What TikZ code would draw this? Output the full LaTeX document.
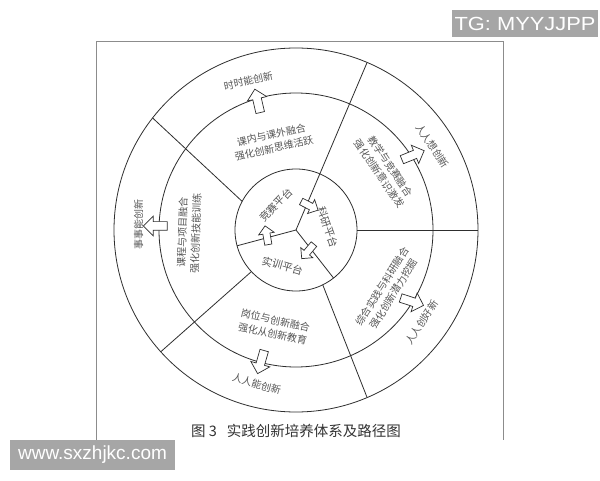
\documentclass[tikz,border=0pt]{standalone}
\usepackage{fontspec}
\usepackage{graphicx}
\newfontfamily\cjk{Noto Sans CJK SC}
\newfontfamily\wmfont{Liberation Sans}
\usetikzlibrary{shapes.arrows}
\definecolor{ln}{HTML}{2E2E2E}
\definecolor{tx}{HTML}{555555}
\definecolor{cap}{HTML}{333333}
\definecolor{fr}{HTML}{8C8C8C}
\definecolor{wmgray}{HTML}{A6A6A6}
\tikzset{
  ring/.style={circle, draw=ln, line width=0.8pt, inner sep=0pt, outer sep=0pt},
  sepline/.style={draw=ln, line width=0.8pt},
  bigarrow/.style={single arrow, draw=ln, fill=white, line width=0.7pt,
    inner xsep=0pt, inner ysep=4pt, minimum height=24pt, single arrow head extend=5.5pt},
  smallarrow/.style={single arrow, draw=ln, fill=white, line width=0.7pt,
    inner xsep=0pt, inner ysep=3.25pt, minimum height=19pt, single arrow head extend=4.25pt},
  lbl/.style={text=tx, font=\cjk\fontsize{10}{13.5}\selectfont, align=center, inner sep=0pt},
  plat/.style={text=tx, font=\cjk\fontsize{10.5}{13}\selectfont, inner sep=0pt},
  wmbox/.style={fill=wmgray, text=white, font=\wmfont\fontsize{19}{19}\selectfont, inner sep=0pt}
}
\begin{document}
\begin{tikzpicture}[x=1pt,y=1pt]
\useasboundingbox (0,0) rectangle (600,480);
\fill[white] (0,0) rectangle (600,480);
% frame
\draw[fr, line width=0.8pt] (96,40) -- (96,439) -- (503,439) -- (503,40);
% centre and rings
\coordinate (C) at (296,250);
\node[ring, minimum size=364pt] (outer) at (C) {};
\node[ring, minimum size=274pt] (middle) at (C) {};
\node[ring, minimum size=122pt] (inner) at (C) {};
% dividing lines
\draw[sepline] (C) -- (outer.67);
\draw[sepline] (inner.0) -- (outer.0);
\draw[sepline] (inner.-64.5) -- (outer.-67);
\draw[sepline] (C) -- (inner.-52);
\draw[sepline] (inner.223) -- (outer.222.5);
\draw[sepline] (C) -- (inner.195);
\draw[sepline] (inner.152.5) -- (outer.142.5);
% block arrows
\node[bigarrow, rotate=103] (a1) at (258,377) {};
\node[bigarrow, rotate=22] (a2) at (411,324) {};
\node[bigarrow, rotate=-18] (a3) at (410,179) {};
\node[bigarrow, rotate=-106] (a4) at (261.5,120) {};
\node[bigarrow, rotate=180] (a5) at (157.5,254) {};
\node[smallarrow, rotate=-27] (a6) at (308,275) {};
\node[smallarrow, rotate=100] (a7) at (267,243) {};
\node[smallarrow, rotate=-130] (a8) at (309,230) {};
% outer ring labels
\node[lbl, rotate=13] (t1) at (248.3,399.3) {时时能创新};
\node[lbl, rotate=-56] (t2) at (432.5,334) {人人想创新};
\node[lbl, rotate=57] (t3) at (421.7,157.5) {人人创好新};
\node[lbl, rotate=-16] (t4) at (256.7,96) {人人能创新};
\node[lbl, rotate=90] (t5) at (138.5,255) {事事能创新};
% middle ring labels
\node[lbl, rotate=12] (m1) at (272.7,338.3) {课内与课外融合\\强化创新思维活跃};
\node[lbl, rotate=-56] (m2) at (385,310) {教学与竞赛融合\\强化创新意识激发};
\node[lbl, rotate=58] (m3) at (388,190) {综合实践与科研融合\\强化创新潜力挖掘};
\node[lbl, rotate=-12] (m4) at (274,153) {岗位与创新融合\\强化从创新教育};
\node[lbl, rotate=88] (m5) at (189,247) {课程与项目融合\\强化创新技能训练};
% platforms
\node[plat, rotate=46] (p1) at (276,275) {竞赛平台};
\node[plat, rotate=-71] (p2) at (328,252.5) {科研平台};
\node[plat, rotate=-16] (p3) at (282.5,214) {实训平台};
% caption
\node[text=cap, font=\cjk\fontsize{14.5}{16}\selectfont, inner sep=0pt] (caption) at (296,49.5) {图 3\hspace{10pt}实践创新培养体系及路径图};
% watermarks
\node[wmbox, minimum width=146pt, minimum height=27pt] (wm1) at (525,456.5) {\scalebox{1.15}[1]{TG: MYYJJPP}};
\node[wmbox, minimum width=165pt, minimum height=30pt] (wm2) at (92.5,25) {www.sxzhjkc.com};
\end{tikzpicture}
\end{document}
